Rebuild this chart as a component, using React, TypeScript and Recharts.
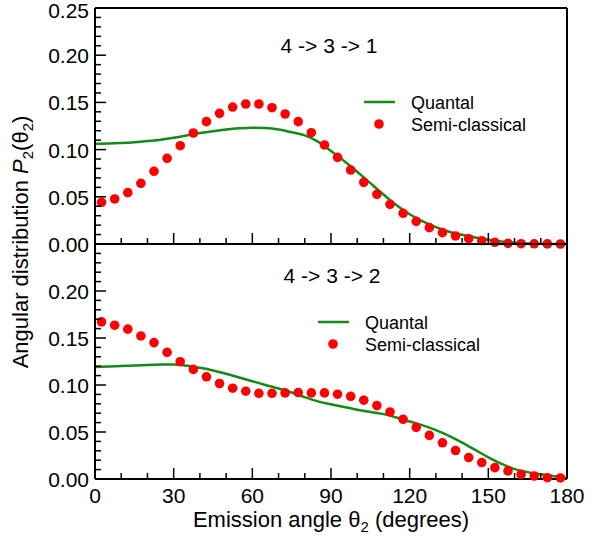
import React from 'react';
import { ComposedChart, Line, Scatter, XAxis, YAxis, Legend, Label } from 'recharts';

const quantalAngles = [0, 5, 10, 15, 20, 25, 30, 35, 40, 45, 50, 55, 60, 65, 70, 75, 80, 85, 90, 95, 100, 105, 110, 115, 120, 125, 130, 135, 140, 145, 150, 155, 160, 165, 170, 175, 180];
const semiAngles = [2.5, 7.5, 12.5, 17.5, 22.5, 27.5, 32.5, 37.5, 42.5, 47.5, 52.5, 57.5, 62.5, 67.5, 72.5, 77.5, 82.5, 87.5, 92.5, 97.5, 102.5, 107.5, 112.5, 117.5, 122.5, 127.5, 132.5, 137.5, 142.5, 147.5, 152.5, 157.5, 162.5, 167.5, 172.5, 177.5];

// 4 -> 3 -> 1
const quantal431 = [0.1063, 0.1065, 0.107, 0.1078, 0.109, 0.1105, 0.1125, 0.115, 0.1175, 0.1195, 0.1212, 0.1225, 0.1232, 0.1228, 0.1212, 0.1183, 0.115, 0.1085, 0.0985, 0.088, 0.0765, 0.0645, 0.0525, 0.041, 0.0315, 0.024, 0.0178, 0.013, 0.0098, 0.0068, 0.0045, 0.0027, 0.0014, 0.0006, 0.0002, 0.0, 0.0];
const semi431 = [0.0442, 0.0477, 0.0544, 0.0643, 0.077, 0.0908, 0.1041, 0.1176, 0.1296, 0.1384, 0.1451, 0.1483, 0.1483, 0.1444, 0.1377, 0.1296, 0.1179, 0.1049, 0.0918, 0.0784, 0.0653, 0.0526, 0.042, 0.0325, 0.024, 0.0173, 0.012, 0.0085, 0.0056, 0.0035, 0.0018, 0.0007, 0.0003, 0.0002, 0.0001, 0.0];

// 4 -> 3 -> 2
const quantal432 = [0.1192, 0.1196, 0.1202, 0.1208, 0.1214, 0.1218, 0.1219, 0.1206, 0.1183, 0.1155, 0.112, 0.108, 0.104, 0.1, 0.0962, 0.092, 0.087, 0.0826, 0.0795, 0.0765, 0.0737, 0.0713, 0.069, 0.0655, 0.0612, 0.057, 0.052, 0.046, 0.0388, 0.031, 0.023, 0.0162, 0.0105, 0.0073, 0.005, 0.003, 0.0012];
const semi432 = [0.1672, 0.1636, 0.1594, 0.1522, 0.1451, 0.1348, 0.1248, 0.1166, 0.1087, 0.1016, 0.0966, 0.0934, 0.0912, 0.0912, 0.0916, 0.092, 0.0916, 0.0916, 0.0902, 0.088, 0.0838, 0.0781, 0.0713, 0.0635, 0.0549, 0.0464, 0.0385, 0.0303, 0.0228, 0.0175, 0.0121, 0.0086, 0.005, 0.0032, 0.0014, 0.0011];

const xTicks = [0, 10, 20, 30, 40, 50, 60, 70, 80, 90, 100, 110, 120, 130, 140, 150, 160, 170, 180];
const yTicks = [0, 0.01, 0.02, 0.03, 0.04, 0.05, 0.06, 0.07, 0.08, 0.09, 0.1, 0.11, 0.12, 0.13, 0.14, 0.15, 0.16, 0.17, 0.18, 0.19, 0.2, 0.21, 0.22, 0.23, 0.24, 0.25];

const FONT = '"Liberation Sans", Arial, Helvetica, sans-serif';
const GREEN = '#168a16';
const RED = '#ff0000';

const toLine = (ys: number[]) => quantalAngles.map((a, i) => ({ angle: a, p: ys[i] }));
const toDots = (ys: number[]) => semiAngles.map((a, i) => ({ angle: a, p: ys[i] }));

function XTick(props: any) {
  const { x, y, payload, side, showLabel } = props;
  const v = payload.value;
  const major = v % 30 === 0;
  const len = major ? 11 : 6;
  const dir = side === 'bottom' ? -1 : 1;
  return (
    <g>
      <line x1={x} x2={x} y1={y} y2={y + dir * len} stroke="#000" strokeWidth={1.5} />
      {showLabel && major && (
        <text x={x} y={y + 24} textAnchor="middle" fontSize={21} fontFamily={FONT} fill="#000">
          {v}
        </text>
      )}
    </g>
  );
}

function YTick(props: any) {
  const { x, y, payload, side, maxLabel } = props;
  const hund = Math.round(payload.value * 100);
  const major = hund % 5 === 0;
  const len = major ? 11 : 6;
  const dir = side === 'left' ? 1 : -1;
  return (
    <g>
      <line x1={x} x2={x + dir * len} y1={y} y2={y} stroke="#000" strokeWidth={1.5} />
      {side === 'left' && major && hund <= maxLabel && (
        <text x={x - 6} y={Math.max(y + 8, 18)} textAnchor="end" fontSize={21} fontFamily={FONT} fill="#000">
          {(hund / 100).toFixed(2)}
        </text>
      )}
    </g>
  );
}

function KeyBox() {
  return (
    <svg width={200} height={50} style={{ display: 'block' }}>
      <line x1={9} x2={40} y1={14} y2={14} stroke={GREEN} strokeWidth={2.5} />
      <text x={56} y={21} fontSize={18} fontFamily={FONT} fill="#000">Quantal</text>
      <circle cx={24} cy={36} r={4.8} fill={RED} />
      <text x={56} y={42.5} fontSize={18} fontFamily={FONT} fill="#000">Semi-classical</text>
    </svg>
  );
}

function XTitle(props: any) {
  const { viewBox } = props;
  const cx = viewBox.x + viewBox.width / 2;
  const y = viewBox.y + 48;
  return (
    <text x={cx} y={y} textAnchor="middle" fontSize={22} fontFamily={FONT} fill="#000">
      Emission angle θ<tspan dy={5} fontSize={15}>2</tspan>
      <tspan dy={-5}> (degrees)</tspan>
    </text>
  );
}

type PanelProps = {
  line: { angle: number; p: number }[];
  dots: { angle: number; p: number }[];
  height: number;
  bottomHeight: number;
  showXLabels: boolean;
  maxLabel: number;
  legendPos: { left: number; top: number };
};

function Panel({ line, dots, height, bottomHeight, showXLabels, maxLabel, legendPos }: PanelProps) {
  return (
    <ComposedChart width={610} height={height} margin={{ top: 0, right: 0, bottom: 0, left: 0 }}>
      <XAxis
        dataKey="angle"
        type="number"
        domain={[0, 180]}
        ticks={xTicks}
        interval={0}
        height={bottomHeight}
        tickSize={0}
        tickMargin={0}
        axisLine={{ stroke: '#000', strokeWidth: 2 }}
        tick={(p: any) => <XTick {...p} side="bottom" showLabel={showXLabels} />}
      >
        {showXLabels && <Label content={<XTitle />} />}
      </XAxis>
      <XAxis
        xAxisId="top"
        orientation="top"
        dataKey="angle"
        type="number"
        domain={[0, 180]}
        ticks={xTicks}
        interval={0}
        height={8}
        tickSize={0}
        tickMargin={0}
        axisLine={{ stroke: '#000', strokeWidth: 2 }}
        tick={(p: any) => <XTick {...p} side="top" showLabel={false} />}
      />
      <YAxis
        type="number"
        domain={[0, 0.25]}
        ticks={yTicks}
        interval={0}
        width={95}
        tickSize={0}
        tickMargin={0}
        axisLine={{ stroke: '#000', strokeWidth: 2 }}
        tick={(p: any) => <YTick {...p} side="left" maxLabel={maxLabel} />}
      />
      <YAxis
        yAxisId="right"
        orientation="right"
        type="number"
        domain={[0, 0.25]}
        ticks={yTicks}
        interval={0}
        width={43}
        tickSize={0}
        tickMargin={0}
        axisLine={{ stroke: '#000', strokeWidth: 2 }}
        tick={(p: any) => <YTick {...p} side="right" maxLabel={maxLabel} />}
      />
      <Line
        data={line}
        dataKey="p"
        name="Quantal"
        type="monotone"
        stroke={GREEN}
        strokeWidth={2.5}
        dot={false}
        activeDot={false}
        isAnimationActive={false}
      />
      <Scatter
        data={dots}
        dataKey="p"
        name="Semi-classical"
        fill={RED}
        shape={(p: any) => <circle cx={p.cx} cy={p.cy} r={4.8} fill={RED} />}
        isAnimationActive={false}
      />
      <Legend
        layout="horizontal"
        verticalAlign="middle"
        align="center"
        content={() => <KeyBox />}
        wrapperStyle={{ left: legendPos.left, top: legendPos.top, width: 200, height: 50 }}
      />
    </ComposedChart>
  );
}

export default function App() {
  return (
    <div style={{ position: 'absolute', left: 0, top: 0, width: 610, height: 542, background: '#fff', fontFamily: FONT }}>
      <div style={{ position: 'absolute', left: 0, top: 0 }}>
        <Panel
          line={toLine(quantal431)}
          dots={toDots(semi431)}
          height={264}
          bottomHeight={20}
          showXLabels={false}
          maxLabel={25}
          legendPos={{ left: 355, top: 88 }}
        />
      </div>
      <div style={{ position: 'absolute', left: 0, top: 236 }}>
        <Panel
          line={toLine(quantal432)}
          dots={toDots(semi432)}
          height={306}
          bottomHeight={63}
          showXLabels={true}
          maxLabel={20}
          legendPos={{ left: 309, top: 72 }}
        />
      </div>
      <svg
        width={610}
        height={542}
        style={{ position: 'absolute', left: 0, top: 0, pointerEvents: 'none' }}
      >
        <text x={329} y={53} textAnchor="middle" fontSize={21} fontFamily={FONT} fill="#000">
          4 -&gt; 3 -&gt; 1
        </text>
        <text x={332} y={283} textAnchor="middle" fontSize={21} fontFamily={FONT} fill="#000">
          4 -&gt; 3 -&gt; 2
        </text>
        <text transform="translate(28,242) rotate(-90)" textAnchor="middle" fontSize={22} fontFamily={FONT} fill="#000">
          Angular distribution <tspan fontStyle="italic">P</tspan>
          <tspan dy={5} fontSize={15}>2</tspan>
          <tspan dy={-5}>(θ</tspan>
          <tspan dy={5} fontSize={15}>2</tspan>
          <tspan dy={-5}>)</tspan>
        </text>
      </svg>
    </div>
  );
}
